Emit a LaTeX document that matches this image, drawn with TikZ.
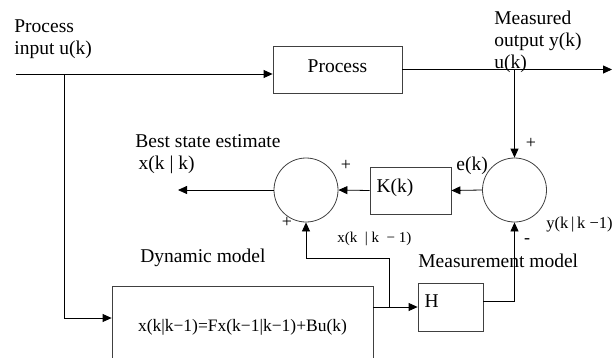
\documentclass[tikz,border=0pt]{standalone}
\usepackage{fontspec}
\setmainfont{Liberation Serif}
\usetikzlibrary{arrows.meta,positioning,calc}
\begin{document}
\begin{tikzpicture}[x=1pt,y=-1pt,>={Triangle[length=9pt,width=8pt]},line width=0.8pt,font=\fontsize{19.5}{22}\selectfont]
\tikzstyle{blk}=[draw=black!75,inner sep=0pt]
\tikzstyle{sum}=[draw=black!75,circle,minimum size=64pt,inner sep=0pt]
\tikzstyle{lbl}=[anchor=base west,inner sep=0pt,align=left]
\tikzstyle{sgn}=[inner sep=0pt,font=\fontsize{18}{20}\selectfont]
\useasboundingbox (0,0) rectangle (613,357);
\clip (0,0) rectangle (613,357);
\node[blk,minimum width=129pt,minimum height=47pt,text height=13pt,text depth=7pt] (proc) at (337.5,69.5) {Process};
\node[sum] (sumL) at (306,190) {};
\node[sum] (sumR) at (514.5,190) {};
\node[blk,minimum width=81pt,minimum height=47pt,text width=68pt,align=left,text height=13pt,text depth=10pt] (kk) at (410.5,190.5) {K(k)};
\node[blk,minimum width=65pt,minimum height=48pt,text width=52pt,align=left,text height=13pt,text depth=13pt] (hh) at (450.5,307) {H};
\node[blk,minimum width=261pt,minimum height=82pt,font=\fontsize{17.5}{20}\selectfont] (dyn) at (242.5,327) {x(k|k−1)=Fx(k−1|k−1)+Bu(k)};
\coordinate (in) at (16,74);
\coordinate (split) at (64,74);
\coordinate (out) at (612,69.5);
\coordinate (est) at (178,190);
\coordinate (tap) at (389,307);
\coordinate (bend) at (sumL.south |- 0,258);
\draw[->] (in) -- (in -| proc.west);
\draw[->] (proc.east) -- (out);
\draw[->] (sumR.north |- out) -- (sumR.north);
\draw[->] (sumR.west) -- (kk.east);
\draw[->] (kk.west) -- (sumL.east);
\draw[->] (sumL.west) -- (est);
\draw[->] (split) |- ($(dyn.west)+(0,-9)$);
\draw[->] (dyn.east |- hh.west) -- (hh.west);
\draw[->] (tap) |- (bend) -- (sumL.south);
\draw[->] ($(hh.east)+(0,-6)$) -| (sumR.south);
\node[lbl] (pin) at (14,54) {Process\\input u(k)};
\node[lbl] (meas) at (494,68) {Measured\\output y(k)\\u(k)};
\node[lbl] (best) at (135,169) {Best state estimate\\\,x(k | k)};
\node[lbl] (ek) at (456,170) {e(k)};
\node[lbl,font=\fontsize{15}{18}\selectfont] (xpred) at (337,242) {x(k \ | k \ − 1)};
\node[lbl,font=\fontsize{16.5}{20}\selectfont] (ypred) at (546,228) {y(k\,|\,k −1)};
\node[lbl] (dlbl) at (140,262) {Dynamic model};
\node[lbl] (mlbl) at (418,267) {Measurement model};
\node[sgn] (pL1) at (346,165) {+};
\node[sgn] (pL2) at (287,222) {+};
\node[sgn] (pR1) at (531,143) {+};
\node[sgn] (mR) at (527,241) {-};
\end{tikzpicture}
\end{document}
